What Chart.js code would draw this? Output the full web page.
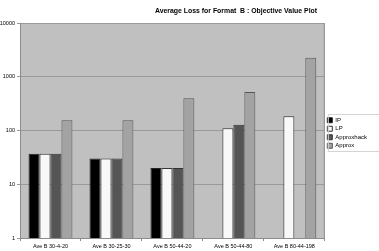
<!DOCTYPE html>
<html>
<head>
<meta charset="utf-8">
<script src="https://cdn.jsdelivr.net/npm/chart.js@4/dist/chart.umd.min.js"></script>
<style>
  html, body { margin: 0; padding: 0; background: #fff; }
  #wrap { width: 379px; height: 251px; }
</style>
</head>
<body>
<div id="wrap"><canvas id="chart-loss"></canvas></div>
<script>
let titleText = "Average Loss for Format  B : Objective Value Plot";
let categories = ["Ave B 30-4-20", "Ave B 30-25-30", "Ave B 50-44-20", "Ave B 50-44-80", "Ave B 80-44-198"];
let ipValues = [37, 30, 20, null, null];
let lpValues = [37, 30, 20, 110, 185];
let approxhackValues = [37, 30, 20, 128, null];
let approxValues = [155, 155, 400, 520, 2250];
let yTicks = [1, 10, 100, 1000, 10000];

// grey plot area with a thin frame, like the old spreadsheet chart
let plotBackground = {
    id: 'plotBackground',
    afterLayout(chart) {
        // nudge the legend up a little
        chart.legend.top -= 4;
        chart.legend.bottom -= 4;
    },
    beforeDraw(chart) {
        let a = chart.chartArea;
        let ctx = chart.ctx;
        ctx.save();
        ctx.fillStyle = '#c0c0c0';
        ctx.fillRect(a.left, a.top, a.right - a.left, a.bottom - a.top);
        ctx.strokeStyle = '#8c8c8c';
        ctx.lineWidth = 1;
        ctx.strokeRect(a.left + 0.5, a.top + 0.5, a.right - a.left - 1, a.bottom - a.top);
        ctx.restore();
    },
    afterDraw(chart) {
        let ctx = chart.ctx;
        ctx.save();
        ctx.fillStyle = '#000';
        ctx.font = 'bold 6.9px "Liberation Sans", Arial, sans-serif';
        ctx.textAlign = 'center';
        ctx.textBaseline = 'middle';
        ctx.fillText(titleText, 236, 11);
        // frame around the legend
        let boxes = chart.legend.legendHitBoxes;
        if (boxes && boxes.length) {
            let top = boxes[0].top - 3;
            let last = boxes[boxes.length - 1];
            let bottom = last.top + last.height + 2;
            ctx.strokeStyle = '#d4d4d4';
            ctx.strokeRect(chart.legend.left + 3.5, Math.round(top) + 0.5, 80, Math.round(bottom - top));
        }
        ctx.restore();
    }
};

let ctxLoss = document.getElementById("chart-loss").getContext('2d');

let lossChart = new Chart(ctxLoss, {
    type: 'bar',
    data: {
        labels: categories,
        datasets: [{
            label: 'IP',
            data: ipValues,
            backgroundColor: '#000000',
            borderColor: '#222222',
            borderWidth: 1
        }, {
            label: 'LP',
            data: lpValues,
            backgroundColor: '#f8f8f8',
            borderColor: '#333333',
            borderWidth: 1
        }, {
            label: 'Approxhack',
            data: approxhackValues,
            backgroundColor: '#555555',
            borderColor: '#333333',
            borderWidth: 1
        }, {
            label: 'Approx',
            data: approxValues,
            backgroundColor: '#a3a3a3',
            borderColor: '#555555',
            borderWidth: 1
        }]
    },
    options: {
        responsive: true,
        maintainAspectRatio: false,
        animation: false,
        devicePixelRatio: 1,
        layout: {
            padding: { top: 23, left: 0, right: 2, bottom: 0 }
        },
        datasets: {
            bar: {
                categoryPercentage: 0.72,
                barPercentage: 1
            }
        },
        scales: {
            x: {
                grid: {
                    offset: true,
                    drawOnChartArea: false,
                    drawTicks: true,
                    tickLength: 3,
                    color: '#8c8c8c'
                },
                border: { color: '#8c8c8c' },
                ticks: {
                    color: '#000',
                    font: { family: '"Liberation Sans", Arial, sans-serif', size: 5.5 },
                    maxRotation: 0,
                    padding: 2
                },
                afterFit(scale) { scale.height = 13; }
            },
            y: {
                type: 'logarithmic',
                min: 1,
                max: 10000,
                afterBuildTicks(scale) {
                    scale.ticks = yTicks.map(v => ({ value: v }));
                },
                grid: {
                    color: '#9a9a9a',
                    tickLength: 3,
                    drawTicks: true
                },
                border: { color: '#8c8c8c' },
                ticks: {
                    color: '#000',
                    font: { family: '"Liberation Sans", Arial, sans-serif', size: 5.5 },
                    padding: 2,
                    callback: function(value) { return String(value); }
                },
                afterFit(scale) { scale.width = 20; }
            }
        },
        plugins: {
            title: { display: false },
            tooltip: { enabled: false },
            legend: {
                display: true,
                position: 'right',
                align: 'center',
                labels: {
                    color: '#000',
                    boxWidth: 5,
                    boxHeight: 5,
                    padding: 2.5,
                    font: { family: '"Liberation Sans", Arial, sans-serif', size: 6 }
                }
            }
        }
    },
    plugins: [plotBackground]
});
</script>
</body>
</html>
